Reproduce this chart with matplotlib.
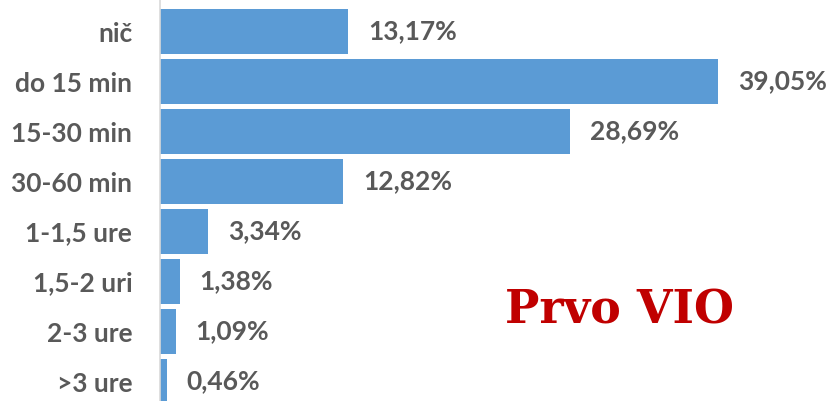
import matplotlib.pyplot as plt

# --- data ---
categories = ["nič", "do 15 min", "15-30 min", "30-60 min",
              "1-1,5 ure", "1,5-2 uri", "2-3 ure", ">3 ure"]
values = [13.17, 39.05, 28.69, 12.82, 3.34, 1.38, 1.09, 0.46]
value_labels = ["13,17%", "39,05%", "28,69%", "12,82%",
                "3,34%", "1,38%", "1,09%", "0,46%"]

BAR_COLOR = "#5B9BD5"
TEXT_GRAY = "#595959"

fig = plt.figure(figsize=(8.28, 4.01), dpi=100)
ax = fig.add_axes([160 / 828, 0, 1 - 160 / 828, 1])

ypos = list(range(len(categories)))
ax.barh(ypos, values, height=0.9, color=BAR_COLOR)

# pixel mapping: ~14.29 px per percent, rows every 50 px
ax.set_xlim(0, (828 - 160) / 14.29)
ax.set_ylim((401 - 31.5) / 50, -31.5 / 50)

for y, v, lab in zip(ypos, values, value_labels):
    ax.annotate(lab, (v, y), xytext=(14.4, 0), textcoords="offset points",
                ha="left", va="center", fontsize=19, fontweight="bold",
                color=TEXT_GRAY, family="Lato")

ax.set_yticks(ypos)
ax.set_yticklabels(categories, fontsize=19, fontweight="bold",
                   color=TEXT_GRAY, family="Lato")
ax.tick_params(axis="y", length=0, pad=20)
ax.set_xticks([])

for s in ["top", "right", "bottom"]:
    ax.spines[s].set_visible(False)
ax.spines["left"].set_color("#D9D9D9")
ax.spines["left"].set_linewidth(1.2)

fig.text(505 / 828, 1 - 323 / 401, "Prvo VIO", fontsize=33, fontweight="bold",
         color="#C00000", family="DejaVu Serif", ha="left", va="baseline")

fig.savefig("out.png", dpi=100)
